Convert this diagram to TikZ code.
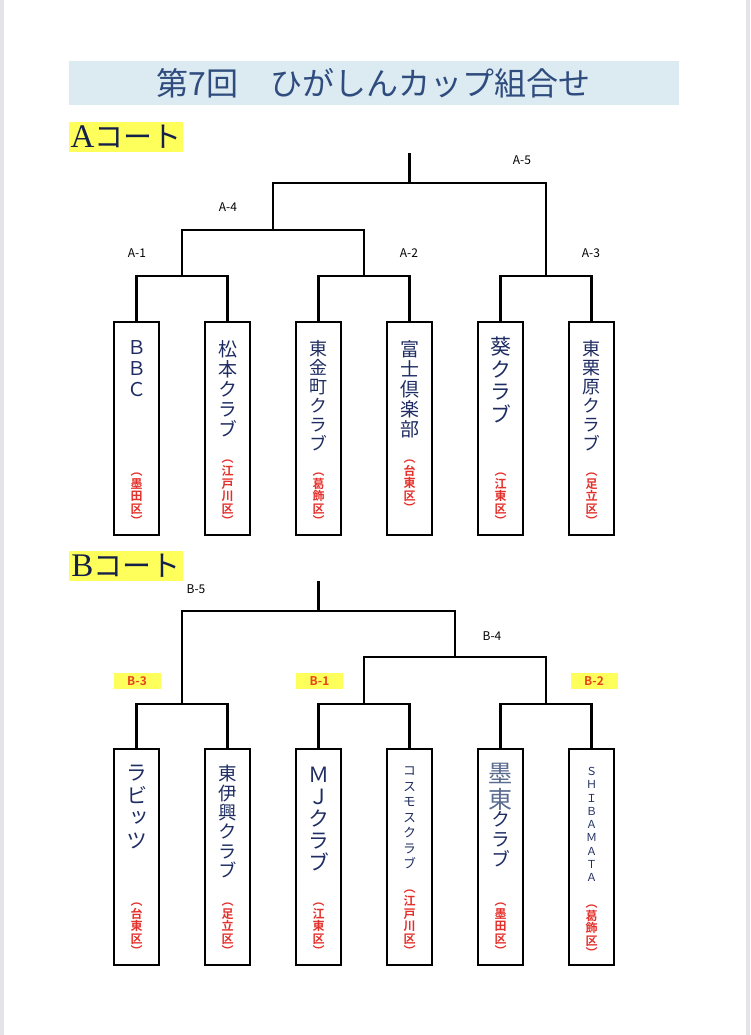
\documentclass[tikz,border=0pt]{standalone}
\usepackage{fontspec}
\setmainfont{Liberation Serif}
\newfontfamily\jp{Noto Sans CJK JP}
\newfontfamily\jpb{Noto Sans CJK JP Bold}
\newfontfamily\jpv[RawFeature=+vert]{Noto Sans CJK JP}
\newfontfamily\jpvb[RawFeature=+vert]{Noto Sans CJK JP Bold}
\usetikzlibrary{positioning}
\definecolor{band}{HTML}{DCEAF1}
\definecolor{ttl}{HTML}{2F4C7E}
\definecolor{navy}{HTML}{1E2C62}
\definecolor{navylt}{HTML}{5A6B90}
\definecolor{wardred}{HTML}{E4302B}
\definecolor{hly}{HTML}{FFFF5C}
\definecolor{hlr}{HTML}{E5461E}
\definecolor{ink}{HTML}{15204A}
\definecolor{edge}{HTML}{E3E3E8}

\begin{document}
\begin{tikzpicture}[
  x=1pt,y=-1pt,
  node distance=46pt,
  team/.style={draw,line width=2.6pt,minimum width=45pt,minimum height=213pt,
               inner sep=0pt,outer sep=0pt},
  teamB/.style={team,minimum height=216pt},
  tname/.style={font=\jpv\fontsize{19}{20}\selectfont,text=navy,align=center,inner sep=0pt},
  wardlbl/.style={font=\jpvb\fontsize{12}{12.6}\selectfont,text=wardred,
                  align=center,inner sep=0pt},
  wire/.style={line width=2.2pt},
  rnd/.style={font=\jp\fontsize{12}{12}\selectfont,inner sep=0pt},
  seed/.style={font=\jpb\fontsize{12}{12}\selectfont,inner sep=0pt,fill=hly,text=hlr,
               minimum width=47pt,minimum height=16pt},
  court/.style={fill=hly,text=ink,minimum width=114pt,minimum height=30pt,inner sep=0pt},
]

\useasboundingbox (0,0) rectangle (750,1035);
\fill[edge] (0,0) rectangle (4,1035);
\fill[edge] (746,0) rectangle (750,1035);

% ---------------------------------------------------------------- heading
\node[fill=band,text=ttl,minimum width=610pt,minimum height=44pt,inner sep=0pt,
      font=\jp\fontsize{32}{32}\selectfont] (title) at (373.5,83.5)
  {第7回　ひがしんカップ組合せ};

% ---------------------------------------------------------------- A court
\node[court] (courtA) at (126,137)
  {{\fontsize{33}{33}\selectfont A}{\jp\fontsize{29}{29}\selectfont コート}};

\node[team]              (a1) at (136.5,428.5) {};
\node[team, right=of a1] (a2) {};
\node[team, right=of a2] (a3) {};
\node[team, right=of a3] (a4) {};
\node[team, right=of a4] (a5) {};
\node[team, right=of a5] (a6) {};

\node[tname, below=18pt of a1.north, font=\jpv\fontsize{19}{21}\selectfont] (a1n) {Ｂ\\Ｂ\\Ｃ};
\node[tname, below=18pt of a2.north]                                      (a2n) {松\\本\\ク\\ラ\\ブ};
\node[tname, below=18pt of a3.north, font=\jpv\fontsize{18}{19}\selectfont] (a3n) {東\\金\\町\\ク\\ラ\\ブ};
\node[tname, below=18pt of a4.north]                                      (a4n) {富\\士\\倶\\楽\\部};
\node[tname, below=15pt of a5.north, font=\jpv\fontsize{21}{22.5}\selectfont] (a5n) {葵\\ク\\ラ\\ブ};
\node[tname, below=18pt of a6.north, font=\jpv\fontsize{18}{19}\selectfont] (a6n) {東\\栗\\原\\ク\\ラ\\ブ};

\node[wardlbl, above=9pt of a1.south]  (a1w) {︵\\墨\\田\\区\\︶};
\node[wardlbl, above=9pt of a2.south]  (a2w) {︵\\江\\戸\\川\\区\\︶};
\node[wardlbl, above=9pt of a3.south]  (a3w) {︵\\葛\\飾\\区\\︶};
\node[wardlbl, above=22pt of a4.south] (a4w) {︵\\台\\東\\区\\︶};
\node[wardlbl, above=9pt of a5.south]  (a5w) {︵\\江\\東\\区\\︶};
\node[wardlbl, above=9pt of a6.south]  (a6w) {︵\\足\\立\\区\\︶};

% bracket
\coordinate (mA1) at (182,276);
\coordinate (mA2) at (364,276);
\coordinate (mA3) at (546,276);
\coordinate (mA4) at (273,230);
\coordinate (mA5) at (409.5,183);
\coordinate (topA) at (409.5,153);

\foreach \l/\r/\m in {a1/a2/mA1,a3/a4/mA2,a5/a6/mA3}
  \draw[wire] (\l.north) |- (\m) -| (\r.north);
\draw[wire] (mA1) |- (mA4) -| (mA2);
\draw[wire] (mA4) |- (mA5) -| (mA3);
\draw[wire] (mA5) -- (topA);

\node[rnd] (lA1) at (137,253) {A-1};
\node[rnd] (lA2) at (409,253) {A-2};
\node[rnd] (lA3) at (591,253) {A-3};
\node[rnd] (lA4) at (228,207) {A-4};
\node[rnd] (lA5) at (522,160) {A-5};

% ---------------------------------------------------------------- B court
\node[court] (courtB) at (126,566)
  {{\fontsize{33}{33}\selectfont B}{\jp\fontsize{29}{29}\selectfont コート}};

\node[teamB]              (b1) at (136.5,857) {};
\node[teamB, right=of b1] (b2) {};
\node[teamB, right=of b2] (b3) {};
\node[teamB, right=of b3] (b4) {};
\node[teamB, right=of b4] (b5) {};
\node[teamB, right=of b5] (b6) {};

\node[tname, below=16pt of b1.north, font=\jpv\fontsize{21}{22.5}\selectfont] (b1n) {ラ\\ビ\\ッ\\ツ};
\node[tname, below=16pt of b2.north, font=\jpv\fontsize{18.5}{19.4}\selectfont] (b2n) {東\\伊\\興\\ク\\ラ\\ブ};
\node[tname, below=18pt of b3.north, font=\jpv\fontsize{21}{22}\selectfont] (b3n) {Ｍ\\Ｊ\\ク\\ラ\\ブ};
\node[tname, below=18pt of b4.north, font=\jpv\fontsize{13}{15.5}\selectfont] (b4n) {コ\\ス\\モ\\ス\\ク\\ラ\\ブ};
\node[tname, below=14pt of b5.north, text=navylt, font=\jpv\fontsize{24}{26}\selectfont] (b5n) {墨\\東};
\node[tname, below=1pt of b5n, font=\jpv\fontsize{19}{20}\selectfont] (b5m) {ク\\ラ\\ブ};
\node[tname, below=18pt of b6.north, font=\jpv\fontsize{11}{13.3}\selectfont] (b6n) {Ｓ\\Ｈ\\Ｉ\\Ｂ\\Ａ\\Ｍ\\Ａ\\Ｔ\\Ａ};

\node[wardlbl, above=9pt of b1.south] (b1w) {︵\\台\\東\\区\\︶};
\node[wardlbl, above=9pt of b2.south] (b2w) {︵\\足\\立\\区\\︶};
\node[wardlbl, above=9pt of b3.south] (b3w) {︵\\江\\東\\区\\︶};
\node[wardlbl, above=9pt of b4.south] (b4w) {︵\\江\\戸\\川\\区\\︶};
\node[wardlbl, above=9pt of b5.south] (b5w) {︵\\墨\\田\\区\\︶};
\node[wardlbl, above=7pt of b6.south] (b6w) {︵\\葛\\飾\\区\\︶};

% bracket
\coordinate (mB3) at (182,704);
\coordinate (mB1) at (364,704);
\coordinate (mB2) at (546,704);
\coordinate (mB4) at (455,657);
\coordinate (mB5) at (318.5,611);
\coordinate (topB) at (318.5,581);

\foreach \l/\r/\m in {b1/b2/mB3,b3/b4/mB1,b5/b6/mB2}
  \draw[wire] (\l.north) |- (\m) -| (\r.north);
\draw[wire] (mB1) |- (mB4) -| (mB2);
\draw[wire] (mB3) |- (mB5) -| (mB4);
\draw[wire] (mB5) -- (topB);

\node[seed] (lB3) at (137,681)   {B-3};
\node[seed] (lB1) at (319.5,681) {B-1};
\node[seed] (lB2) at (594,681)   {B-2};
\node[rnd]  (lB4) at (492,636)   {B-4};
\node[rnd]  (lB5) at (196,589)   {B-5};

\end{tikzpicture}
\end{document}
